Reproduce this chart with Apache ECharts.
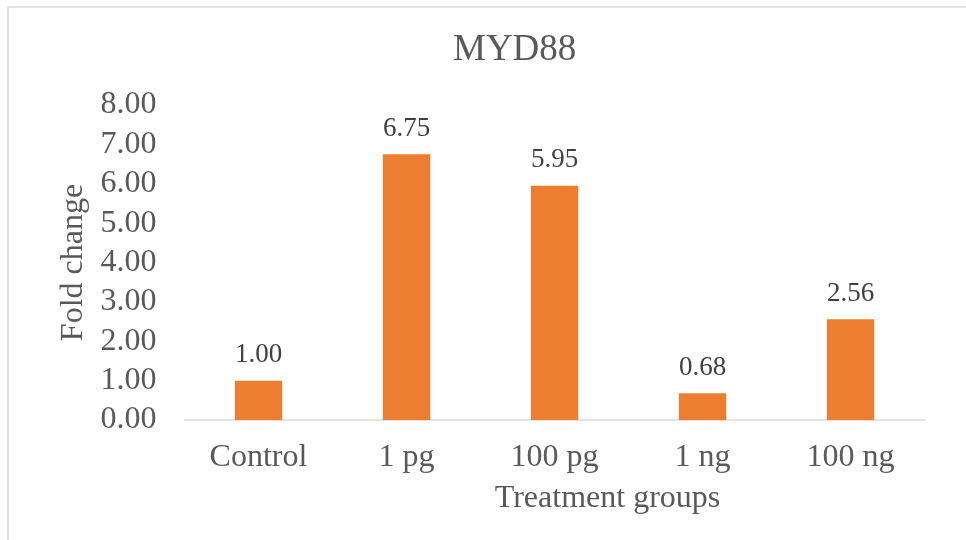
<!DOCTYPE html>
<html><head><meta charset="utf-8">
<script src="https://cdn.jsdelivr.net/npm/echarts@6/dist/echarts.min.js"></script>
<style>html,body{margin:0;padding:0;background:#fff}#c{width:966px;height:540px}</style>
</head><body><div id="c"></div>
<script>
const categories = ['Control', '1 pg', '100 pg', '1 ng', '100 ng'];
const foldChange = [1.00, 6.75, 5.95, 0.68, 2.56];
const yTicks = {min: 0, max: 8, interval: 1};
const titleText = 'MYD88';
const xName = 'Treatment groups';
const yName = 'Fold change';

const font = '"Liberation Serif", "Times New Roman", serif';
const txt = '#595959';
const chart = echarts.init(document.getElementById('c'), null, {renderer: 'canvas'});
chart.setOption({
  animation: false,
  graphic: [{type: 'rect', shape: {x: 8, y: 7, width: 1000, height: 600},
    style: {fill: 'none', stroke: '#d9d9d9', lineWidth: 1.5}}],
  title: {text: titleText, left: 448, top: 27,
    textStyle: {fontFamily: font, fontSize: 37, fontWeight: 'normal', color: txt}},
  grid: {left: 184.5, right: 41.5, top: 105, bottom: 120},
  xAxis: {type: 'category', data: categories,
    name: xName, nameLocation: 'middle', nameGap: 63,
    nameTextStyle: {fontFamily: font, fontSize: 32, color: txt, padding: [0, 0, 0, 106]},
    axisLine: {lineStyle: {color: '#d9d9d9', width: 1.5}},
    axisTick: {show: false},
    axisLabel: {fontFamily: font, fontSize: 32, color: txt, margin: 22}},
  yAxis: {type: 'value', min: yTicks.min, max: yTicks.max, interval: yTicks.interval,
    name: yName, nameLocation: 'middle', nameGap: 86,
    nameTextStyle: {fontFamily: font, fontSize: 32, color: txt},
    axisLine: {show: false}, axisTick: {show: false}, splitLine: {show: false},
    axisLabel: {fontFamily: font, fontSize: 32, color: txt, margin: 28,
      formatter: v => v.toFixed(2)}},
  series: [{type: 'bar', data: foldChange, barWidth: '32%',
    itemStyle: {color: '#ED7D31'},
    label: {show: true, position: 'top', distance: 12, fontFamily: font, fontSize: 27, color: '#404040',
      formatter: p => p.value.toFixed(2)}}]
});
</script></body></html>
